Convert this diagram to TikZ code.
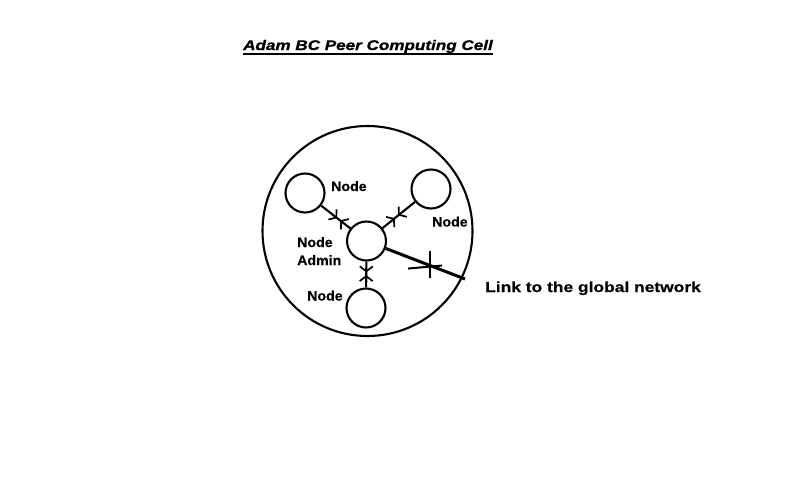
\documentclass[tikz,border=0pt]{standalone}
\usepackage{fontspec}
\setmainfont{Liberation Sans}
\newfontfamily\titlefont[FakeStretch=1.22,FakeBold=1]{Liberation Sans}
\newfontfamily\linkfont[FakeStretch=1.2,FakeBold=0.6]{Liberation Sans}
\newfontfamily\lblfont[FakeStretch=1.05,FakeBold=0.4]{Liberation Sans}
\usetikzlibrary{arrows.meta,decorations.markings}
\tikzset{mybarb/.tip={Straight Barb[length=5pt,width=13pt,line width=1.7pt]}}
\begin{document}
\begin{tikzpicture}[x=1pt,y=-1pt,
  peer/.style={circle,draw,line width=2.1pt,minimum size=39pt,inner sep=0pt},
  cell/.style={circle,draw,line width=2.1pt,minimum size=210pt,inner sep=0pt},
  lbl/.style={anchor=base west,inner sep=0pt,font=\lblfont\bfseries\fontsize{13.5}{17}\selectfont},
  bidir/.style={line width=2.1pt,postaction={decorate},decoration={markings,
     mark=at position #1 with {\arrow{mybarb}},
     mark=at position #1+0.1 with {\arrowreversed{mybarb}}}},
]
\useasboundingbox (0,0) rectangle (800,491);
\fill[white] (0,0) rectangle (800,491);

% title
\node[anchor=base west,inner sep=0pt,font=\titlefont\bfseries\itshape\fontsize{14}{17}\selectfont] (title) at (243,50) {Adam BC Peer Computing Cell};
\draw[line width=1.7pt] (title.base west) ++(0,4) coordinate (ul1) -- (ul1 -| title.base east);

% cell
\node[cell] (cell) at (367.5,231) {};
\node[peer] (tl) at (305,193) {};
\node[peer] (tr) at (431,189) {};
\node[peer] (adm) at (366.5,241) {};
\node[peer] (bot) at (366,308) {};
\coordinate (gl) at (465,279);

% connectors
\draw[bidir=0.35] (adm) -- (tl);
\draw[bidir=0.38] (adm) -- (tr);
\draw[bidir=0.42] (adm) -- (bot);
\draw[line width=3pt] (adm) -- (gl) coordinate[pos=0.56] (gx);
\draw[line width=2pt] ([yshift=15pt]gx) -- ([yshift=-12pt]gx);
\draw[line width=2pt] ([shift={(-22,3)}]gx) -- ([shift={(12,0)}]gx);

% labels
\node[lbl] (l1) at (331,191) {Node};
\node[lbl] (l2) at (432,226.5) {Node};
\node[lbl] (l3) at (297,247) {Node};
\node[lbl] (l4) at (297,265) {Admin};
\node[lbl] (l5) at (307,300.5) {Node};
\node[anchor=base west,inner sep=0pt,font=\linkfont\bfseries\fontsize{14.5}{17}\selectfont] (link) at (485,292) {Link to the global network};
\end{tikzpicture}
\end{document}
